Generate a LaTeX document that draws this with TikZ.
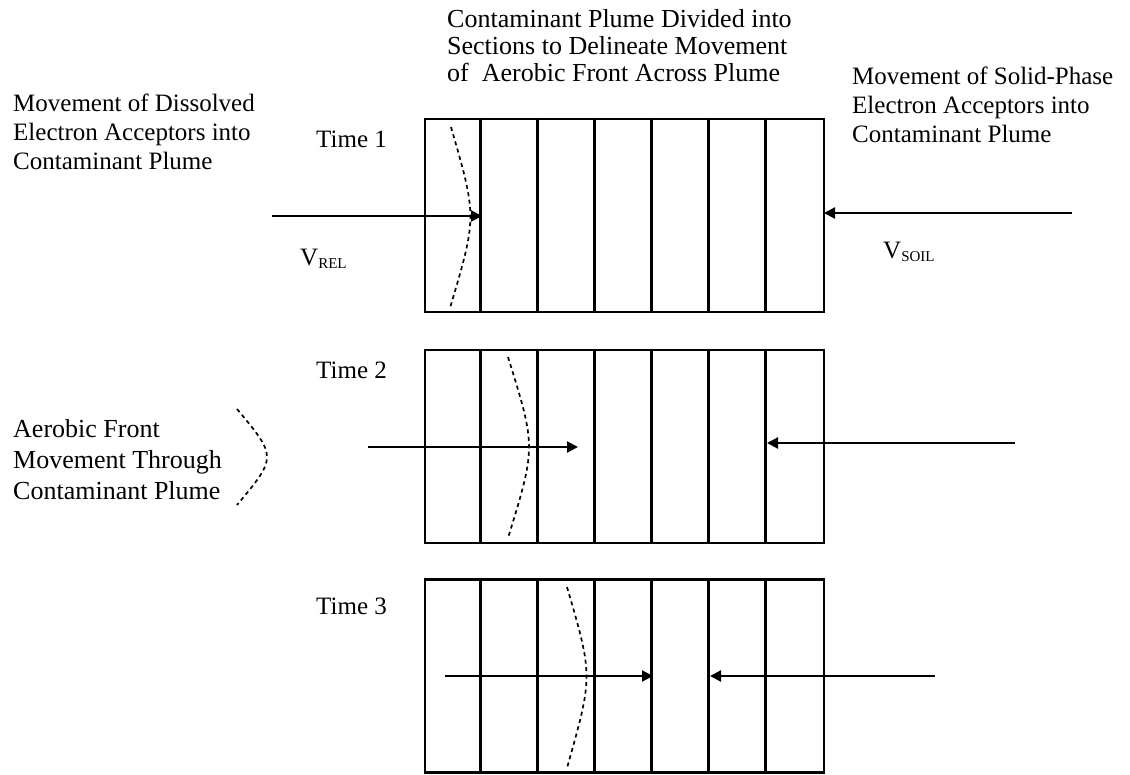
\documentclass[tikz,border=0pt]{standalone}
\usepackage{fontspec}
\setmainfont{Liberation Serif}
\usetikzlibrary{arrows.meta}
\tikzset{
  plume/.style={draw, line width=2.8pt, minimum width=399pt, minimum height=193pt, inner sep=0pt},
  divider/.style={line width=2.4pt},
  flow/.style={line width=2.2pt, -{Triangle[length=11pt,width=11pt]}},
  front/.style={line width=1.7pt, dash pattern=on 4pt off 3.5pt},
  lbl/.style={font=\fontsize{25}{29}\selectfont, align=left, inner sep=0pt, anchor=north west},
  tlbl/.style={font=\fontsize{25}{29}\selectfont, inner sep=0pt, anchor=base west},
}
\newcommand{\vsub}[1]{V\raisebox{-0.3ex}{\fontsize{15}{15}\selectfont #1}}
\begin{document}
\begin{tikzpicture}[x=1pt,y=-1pt]
\useasboundingbox (0,0) rectangle (1130,774);

% texts
\node[lbl, font=\fontsize{26}{27}\selectfont] (title) at (447,9) {Contaminant Plume Divided into\\Sections to Delineate Movement\\of~ Aerobic Front Across Plume};
\node[lbl] (left) at (13,94) {Movement of Dissolved\\Electron Acceptors into\\Contaminant Plume};
\node[lbl] (right) at (852,67) {Movement of Solid-Phase\\Electron Acceptors into\\Contaminant Plume};
\node[lbl, font=\fontsize{26}{31}\selectfont] (legend) at (13,419) {Aerobic Front\\Movement Through\\Contaminant Plume};

\node[tlbl] (t1) at (316,147) {Time 1};
\node[tlbl] (t2) at (316,378) {Time 2};
\node[tlbl] (t3) at (316,614) {Time 3};
\node[tlbl] (vrel) at (300,265) {\vsub{REL}};
\node[tlbl] (vsoil) at (883,258) {\vsub{SOIL}};

% boxes
\node[plume] (b1) at (624.5,215.5) {};
\node[plume] (b2) at (624.5,446.5) {};
\node[plume] (b3) at (624.5,676) {};
\foreach \b in {b1,b2,b3}{
  \foreach \i in {1,...,6}{
    \draw[divider] ([xshift=\i*57pt]\b.north west) -- ([xshift=\i*57pt]\b.south west);
  }
}

% arrows
\coordinate (l1s) at (272,216); \coordinate (l1e) at (482,216);
\coordinate (r1s) at (1072,213); \coordinate (r1e) at (824,213);
\coordinate (l2s) at (368,447); \coordinate (l2e) at (578,447);
\coordinate (r2s) at (1015,443); \coordinate (r2e) at (767,443);
\coordinate (l3s) at (445,676); \coordinate (l3e) at (653,676);
\coordinate (r3s) at (935,676); \coordinate (r3e) at (710,676);
\draw[flow] (l1s) -- (l1e);
\draw[flow] (r1s) -- (r1e);
\draw[flow] (l2s) -- (l2e);
\draw[flow] (r2s) -- (r2e);
\draw[flow] (l3s) -- (l3e);
\draw[flow] (r3s) -- (r3e);

% aerobic fronts
\draw[front] (451,127) .. controls (477,217) .. (450,308);
\draw[front] (508,357) .. controls (536,447) .. (508,538);
\draw[front] (567,587) .. controls (593,676) .. (567,768);
\draw[front] (237,409) .. controls (277,457) .. (237,505);
\end{tikzpicture}
\end{document}
